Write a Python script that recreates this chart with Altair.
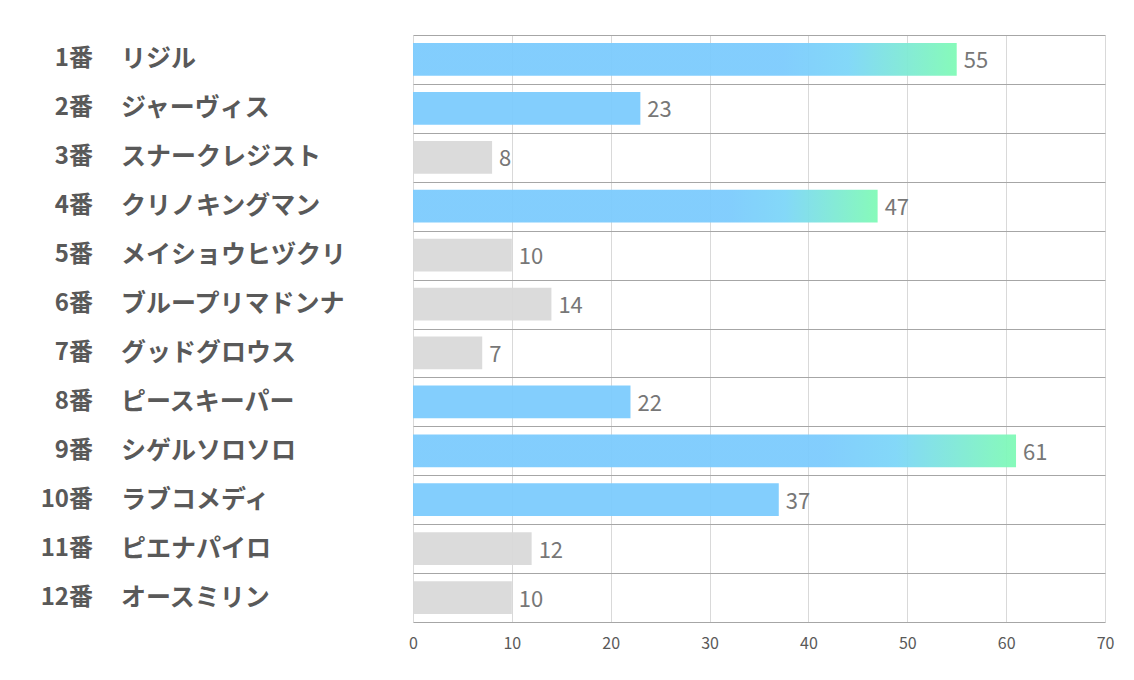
import altair as alt
import pandas as pd

nums = ["1番", "2番", "3番", "4番", "5番", "6番", "7番", "8番", "9番", "10番", "11番", "12番"]
names = ["リジル", "ジャーヴィス", "スナークレジスト", "クリノキングマン", "メイショウヒヅクリ",
         "ブループリマドンナ", "グッドグロウス", "ピースキーパー", "シゲルソロソロ", "ラブコメディ",
         "ピエナパイロ", "オースミリン"]
values = [55, 23, 8, 47, 10, 14, 7, 22, 61, 37, 12, 10]
kinds = ["grad", "blue", "gray", "grad", "gray", "gray", "gray", "blue", "grad", "blue", "gray", "gray"]
x_ticks = [0, 10, 20, 30, 40, 50, 60, 70]

df = pd.DataFrame({"num": nums, "name": names, "value": values, "kind": kinds})

FONT = "Noto Sans CJK JP"
LABEL_COLOR = "#595959"

y_enc = alt.Y("num:N", sort=nums,
              scale=alt.Scale(paddingInner=0.33, paddingOuter=0.165),
              axis=alt.Axis(title=None, labels=False, ticks=False, domain=False,
                            grid=True, gridColor="#a6a6a6", gridWidth=1,
                            bandPosition=0, tickOffset=-8))
x_enc = alt.X("value:Q", scale=alt.Scale(domain=[0, 70], nice=False),
              axis=alt.Axis(title=None, values=x_ticks, grid=True, gridColor="#d9d9d9",
                            ticks=False, domain=True, domainColor="#a6a6a6",
                            labelFont=FONT, labelFontSize=16, labelColor=LABEL_COLOR,
                            labelPadding=13, labelFlush=False))

base = alt.Chart(df)

gray = base.transform_filter(alt.datum.kind == "gray").mark_bar(
    color="#d9d9d9", opacity=0.95).encode(x=x_enc, y=y_enc)
blue = base.transform_filter(alt.datum.kind == "blue").mark_bar(
    color="#7ccbfd", opacity=0.95).encode(x=x_enc, y=y_enc)
grad = base.transform_filter(alt.datum.kind == "grad").mark_bar(
    opacity=0.95,
    color=alt.Gradient(gradient="linear", x1=0, x2=1, y1=0, y2=0,
                       stops=[alt.GradientStop(color="#7ccbfd", offset=0),
                              alt.GradientStop(color="#7ccbfd", offset=0.68),
                              alt.GradientStop(color="#7dd6f8", offset=0.8),
                              alt.GradientStop(color="#80fab6", offset=1)])
).encode(x=x_enc, y=y_enc)

vals = base.mark_text(align="left", baseline="middle", dx=7, dy=2, font=FONT,
                      fontSize=22, color="#777777").encode(
    x=x_enc, y=y_enc, text="value:Q")

num_text = base.mark_text(align="right", baseline="middle", font=FONT, fontSize=24,
                          fontWeight="bold", color=LABEL_COLOR).encode(
    x=alt.value(-320), y=y_enc, text="num:N")
name_text = base.mark_text(align="left", baseline="middle", font=FONT, fontSize=25,
                           fontWeight="bold", color=LABEL_COLOR).encode(
    x=alt.value(-292), y=y_enc, text="name:N")

chart = alt.layer(gray, blue, grad, vals, num_text, name_text).properties(
    width=692, height=587,
    autosize=alt.AutoSizeParams(type="none"),
    padding={"left": 405, "top": 27, "right": 10, "bottom": 40},
).configure_view(stroke=None)

chart.save("out.html", embed_options={"renderer": "svg", "actions": False})
